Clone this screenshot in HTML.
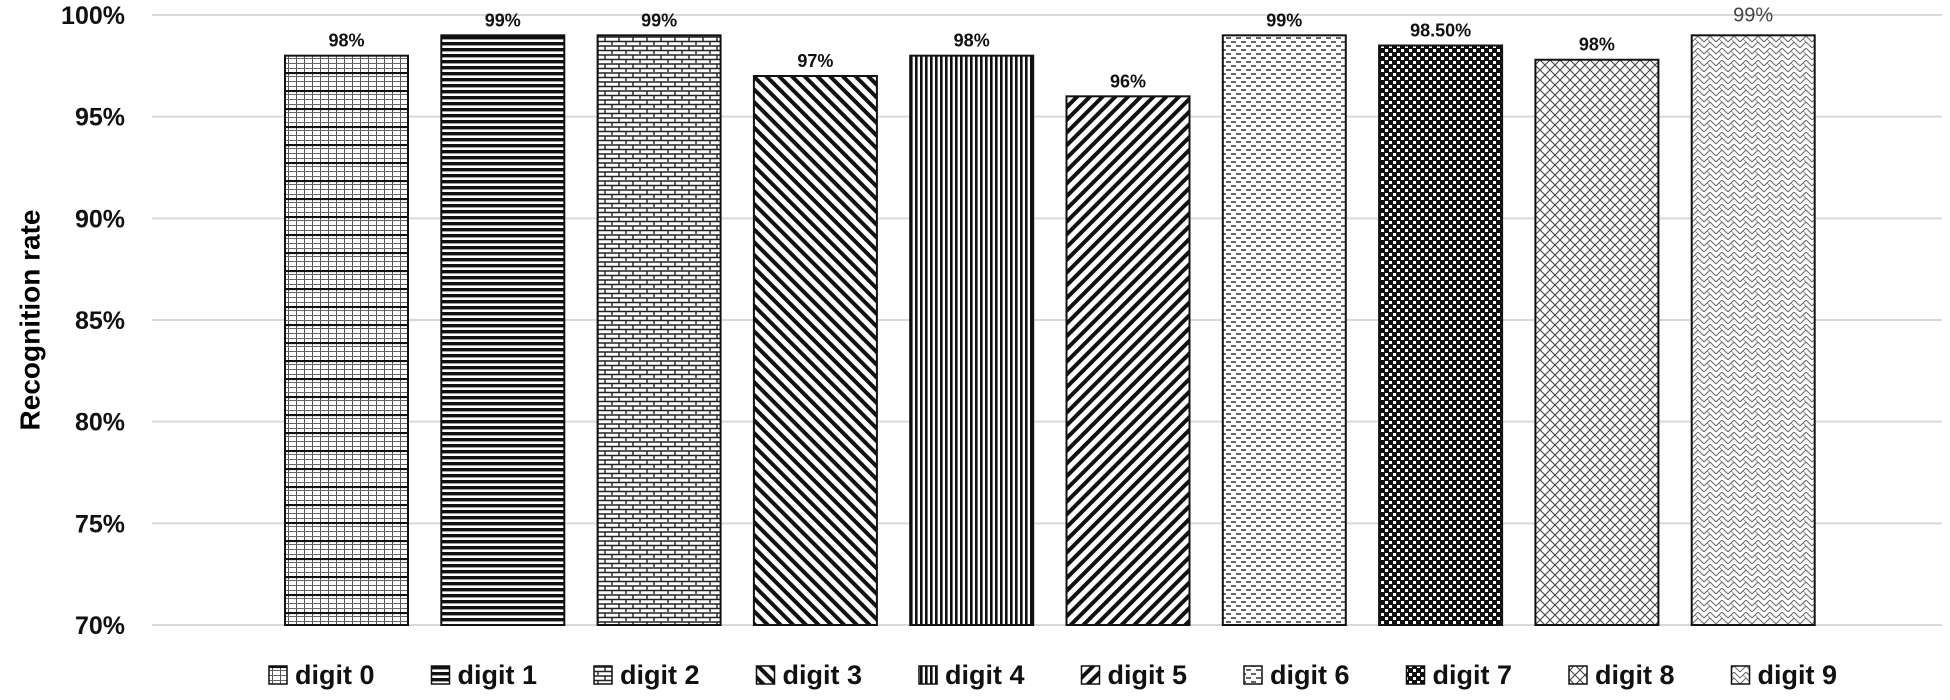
<!DOCTYPE html>
<html><head><meta charset="utf-8"><style>
html,body{margin:0;padding:0;background:#fff;}
svg text{font-family:"Liberation Sans",sans-serif;}
</style></head><body>
<svg id="chart" width="1950" height="695" xmlns="http://www.w3.org/2000/svg">
<defs>
<pattern id="p0" width="8" height="18" patternUnits="userSpaceOnUse"><rect width="8" height="18" fill="#fff"/><path d="M0.5 0V18" stroke="#555" stroke-width="1"/><path d="M0 4.5H8M0 9.5H8M0 14.5H8" stroke="#666" stroke-width="1"/><path d="M0 1H8" stroke="#111" stroke-width="2.2"/></pattern>
<pattern id="p1" width="8" height="6" patternUnits="userSpaceOnUse"><rect width="8" height="6" fill="#fff"/><rect y="0" width="8" height="3.4" fill="#111"/></pattern>
<pattern id="p2" width="14" height="9" patternUnits="userSpaceOnUse"><rect width="14" height="9" fill="#fff"/><path d="M0 1H14M0 5.5H14" stroke="#222" stroke-width="1.6"/><path d="M3 1V5.5M10 5.5V9" stroke="#222" stroke-width="1.4"/></pattern>
<pattern id="p3" width="9" height="9" patternUnits="userSpaceOnUse" patternTransform="rotate(-45)"><rect width="9" height="9" fill="#fff"/><rect width="4" height="9" fill="#111"/></pattern>
<pattern id="p4" width="5" height="10" patternUnits="userSpaceOnUse"><rect width="5" height="10" fill="#fff"/><rect width="2.6" height="10" fill="#111"/></pattern>
<pattern id="p5" width="9" height="9" patternUnits="userSpaceOnUse" patternTransform="rotate(45)"><rect width="9" height="9" fill="#fff"/><rect width="4" height="9" fill="#111"/></pattern>
<pattern id="p6" width="10" height="8" patternUnits="userSpaceOnUse"><rect width="10" height="8" fill="#fff"/><path d="M1 2H6M6 6H10M0 6H1" stroke="#333" stroke-width="1.6"/></pattern>
<pattern id="p7" width="8" height="8" patternUnits="userSpaceOnUse"><rect width="8" height="8" fill="#111"/><rect x="1" y="1" width="3" height="3" fill="#fff"/><rect x="5" y="5" width="3" height="3" fill="#fff"/></pattern>
<pattern id="p8" width="10" height="10" patternUnits="userSpaceOnUse"><rect width="10" height="10" fill="#fff"/><path d="M0 0L10 10M10 0L0 10" stroke="#444" stroke-width="1.1"/></pattern>
<pattern id="p9" width="12" height="12" patternUnits="userSpaceOnUse"><rect width="12" height="12" fill="#fff"/><path d="M0 12L6 6L12 12M0 6L6 0L12 6" stroke="#666" stroke-width="1" fill="none"/><path d="M3 3L9 9" stroke="#777" stroke-width="0.8"/></pattern>
</defs>
<g id="grid"></g>
<g id="yticks"></g>
<text x="0" y="0" transform="translate(32,320) rotate(-90)" text-anchor="middle" dominant-baseline="middle" font-size="28" font-weight="bold" fill="#000">Recognition rate</text>
<g id="bars"></g>
<g id="legend"></g>
</svg>
<script>
const categories = ["digit 0","digit 1","digit 2","digit 3","digit 4","digit 5","digit 6","digit 7","digit 8","digit 9"];
const values = [98, 99, 99, 97, 98, 96, 99, 98.5, 97.8, 99];
const valueLabels = ["98%","99%","99%","97%","98%","96%","99%","98.50%","98%","99%"];
const yTicks = [70, 75, 80, 85, 90, 95, 100];
const yTickLabels = ["70%","75%","80%","85%","90%","95%","100%"];

const NS = "http://www.w3.org/2000/svg";
const yMin = 70, yMax = 100, yBottom = 625, yTop = 15;
function yScale(v){ return yBottom - (v - yMin) / (yMax - yMin) * (yBottom - yTop); }
const x0 = 285, step = 156.3, barW = 123;
function xScale(i){ return x0 + step * i; }
function mk(tag, attrs){ const e = document.createElementNS(NS, tag); for (const k in attrs) e.setAttribute(k, attrs[k]); return e; }

const grid = document.getElementById('grid');
const yt = document.getElementById('yticks');
yTicks.forEach((t, i) => {
  const y = yScale(t);
  const l = mk('line', {x1: 152, x2: 1942, y1: y, y2: y, stroke: '#d9d9d9', 'stroke-width': 2});
  
  
  grid.appendChild(l);
  const tx = mk('text', {x: 125, y: y + 9, 'text-anchor': 'end', 'font-size': 25, 'font-weight': 'bold', fill: '#111'});
  
  
  tx.textContent = yTickLabels[i];
  yt.appendChild(tx);
});

const bars = document.getElementById('bars');
values.forEach((v, i) => {
  const x = xScale(i), y = yScale(v);
  const r = mk('rect', {x: x, y: y, width: barW, height: yBottom - y, fill: 'url(#p' + i + ')', stroke: '#111', 'stroke-width': 2});
  
  
  bars.appendChild(r);
  const last = i === values.length - 1;
  const lt = mk('text', {x: x + barW / 2, y: last ? y - 14 : y - 9, 'text-anchor': 'middle', 'font-size': last ? 20 : 18, 'font-weight': last ? 'normal' : 'bold', fill: last ? '#444' : '#111'});
  
  
  lt.textContent = valueLabels[i];
  bars.appendChild(lt);
});

const legend = document.getElementById('legend');
categories.forEach((c, i) => {
  const lx = 269 + 162.5 * i;
  const g = mk('g', {});
  
  
  const sw = mk('rect', {x: lx, y: 666, width: 18, height: 18, fill: 'url(#p' + i + ')', stroke: '#111', 'stroke-width': 1.5});
  
  
  g.appendChild(sw);
  const t = mk('text', {x: lx + 26, y: 684, 'font-size': 27, 'font-weight': 'bold', fill: '#111'});
  
  
  t.textContent = c;
  g.appendChild(t);
  legend.appendChild(g);
});
</script>
</body></html>
